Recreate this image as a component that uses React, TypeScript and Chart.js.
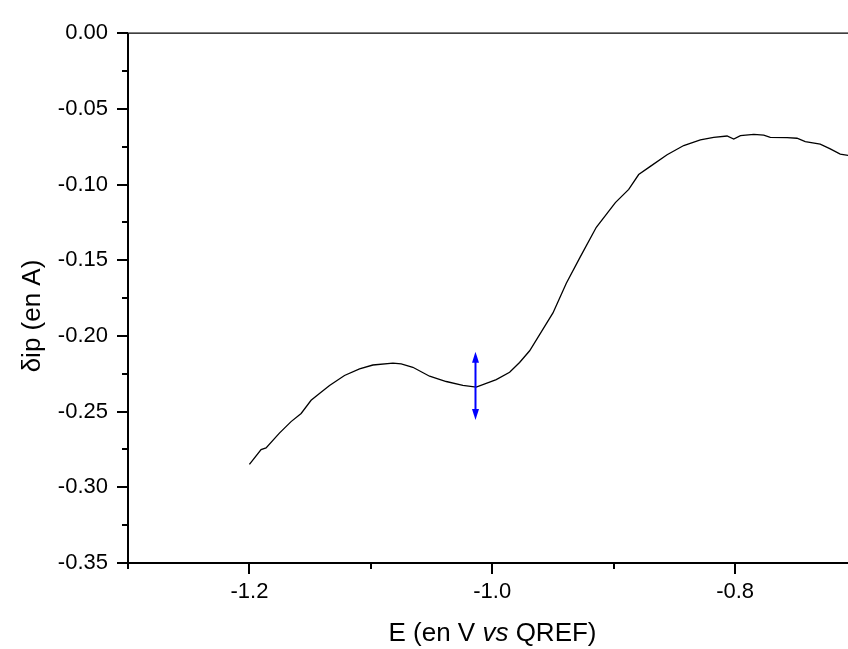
import React, { useEffect, useRef } from "react";
import { Chart, registerables } from "chart.js";

Chart.register(...registerables);

// ---- data ----
const E_VALUES = [
  -1.2, -1.1904, -1.1863, -1.1753, -1.1657, -1.1574, -1.1492, -1.1423, -1.134, -1.1217,
  -1.1093, -1.0983, -1.0818, -1.075, -1.0654, -1.0516, -1.0379, -1.0242, -1.0132, -0.9967,
  -0.9857, -0.9775, -0.9692, -0.95, -0.939, -0.9275, -0.9143, -0.8986, -0.8876, -0.8794,
  -0.8698, -0.856, -0.8423, -0.8286, -0.8176, -0.8066, -0.8011, -0.7956, -0.7846, -0.7764,
  -0.771, -0.7572, -0.749, -0.7422, -0.7299, -0.7216, -0.7134, -0.7066,
];
const DIP_VALUES = [
  -0.2849, -0.2751, -0.274, -0.2642, -0.2566, -0.2512, -0.2425, -0.2381, -0.2327, -0.2261,
  -0.2218, -0.2192, -0.2179, -0.2185, -0.2207, -0.2266, -0.2301, -0.2327, -0.2338, -0.2288,
  -0.224, -0.2175, -0.2098, -0.1848, -0.1652, -0.1478, -0.1282, -0.1119, -0.1032, -0.0934,
  -0.088, -0.0803, -0.0742, -0.0705, -0.0688, -0.0679, -0.0699, -0.0677, -0.0668, -0.0673,
  -0.0688, -0.069, -0.0694, -0.0716, -0.0733, -0.0764, -0.0799, -0.0808,
];

const X_MAJOR_TICKS = [-1.2, -1.0, -0.8];
const X_MINOR_TICKS = [-1.3, -1.1, -0.9];
const Y_MAJOR_TICKS = [0, -0.05, -0.1, -0.15, -0.2, -0.25, -0.3, -0.35];
const Y_MINOR_TICKS = [-0.025, -0.075, -0.125, -0.175, -0.225, -0.275, -0.325];

const X_MIN = -1.3;
const X_MAX = -0.707;
const Y_MIN = -0.35;
const Y_MAX = 0;

const ARROW_X = -1.0138;
const ARROW_Y_TOP = -0.2105;
const ARROW_Y_BOTTOM = -0.2555;

const X_TITLE_PARTS = ["E (en V ", "vs", " QREF)"];
const Y_TITLE = "δip (en A)";

const FONT_FAMILY = 'Arial, "Liberation Sans", sans-serif';

const framePlugin = {
  id: "originFrame",
  afterDraw(chart: any) {
    const { ctx, chartArea: a, scales } = chart;
    const xs = scales.x;
    const ys = scales.y;
    ctx.save();
    ctx.strokeStyle = "#000";
    ctx.fillStyle = "#000";

    // frame lines
    ctx.lineWidth = 2;
    ctx.beginPath();
    ctx.moveTo(a.left, a.top);
    ctx.lineTo(a.left, a.bottom + 1);
    ctx.stroke();
    ctx.beginPath();
    ctx.moveTo(a.left - 1, a.bottom);
    ctx.lineTo(a.right, a.bottom);
    ctx.stroke();
    ctx.lineWidth = 1.2;
    ctx.beginPath();
    ctx.moveTo(a.left, a.top);
    ctx.lineTo(a.right, a.top);
    ctx.stroke();

    // y ticks
    ctx.lineWidth = 2;
    for (const v of Y_MAJOR_TICKS) {
      const y = Math.round(ys.getPixelForValue(v));
      ctx.beginPath();
      ctx.moveTo(a.left - 11, y);
      ctx.lineTo(a.left, y);
      ctx.stroke();
    }
    for (const v of Y_MINOR_TICKS) {
      const y = Math.round(ys.getPixelForValue(v));
      ctx.beginPath();
      ctx.moveTo(a.left - 6, y);
      ctx.lineTo(a.left, y);
      ctx.stroke();
    }
    // x ticks
    for (const v of X_MAJOR_TICKS) {
      const x = Math.round(xs.getPixelForValue(v));
      ctx.beginPath();
      ctx.moveTo(x, a.bottom);
      ctx.lineTo(x, a.bottom + 11);
      ctx.stroke();
    }
    for (const v of X_MINOR_TICKS) {
      const x = Math.round(xs.getPixelForValue(v));
      ctx.beginPath();
      ctx.moveTo(x, a.bottom);
      ctx.lineTo(x, a.bottom + 6);
      ctx.stroke();
    }

    // blue double arrow
    const ax = xs.getPixelForValue(ARROW_X);
    const ay1 = ys.getPixelForValue(ARROW_Y_TOP);
    const ay2 = ys.getPixelForValue(ARROW_Y_BOTTOM);
    ctx.strokeStyle = "#0000ff";
    ctx.fillStyle = "#0000ff";
    ctx.lineWidth = 2;
    ctx.beginPath();
    ctx.moveTo(ax, ay1 + 8);
    ctx.lineTo(ax, ay2 - 8);
    ctx.stroke();
    ctx.beginPath();
    ctx.moveTo(ax, ay1);
    ctx.lineTo(ax - 3.5, ay1 + 11);
    ctx.lineTo(ax + 3.5, ay1 + 11);
    ctx.closePath();
    ctx.fill();
    ctx.beginPath();
    ctx.moveTo(ax, ay2);
    ctx.lineTo(ax - 3.5, ay2 - 11);
    ctx.lineTo(ax + 3.5, ay2 - 11);
    ctx.closePath();
    ctx.fill();

    // x title with italic "vs"
    ctx.fillStyle = "#000";
    ctx.textBaseline = "alphabetic";
    ctx.textAlign = "left";
    const normal = `26px ${FONT_FAMILY}`;
    const italic = `italic 26px ${FONT_FAMILY}`;
    ctx.font = normal;
    const w1 = ctx.measureText(X_TITLE_PARTS[0]).width;
    const w3 = ctx.measureText(X_TITLE_PARTS[2]).width;
    ctx.font = italic;
    const w2 = ctx.measureText(X_TITLE_PARTS[1]).width;
    const total = w1 + w2 + w3;
    let tx = 492.5 - total / 2;
    const ty = 641;
    ctx.font = normal;
    ctx.fillText(X_TITLE_PARTS[0], tx, ty);
    tx += w1;
    ctx.font = italic;
    ctx.fillText(X_TITLE_PARTS[1], tx, ty);
    tx += w2;
    ctx.font = normal;
    ctx.fillText(X_TITLE_PARTS[2], tx, ty);

    // y title
    ctx.translate(33, 316);
    ctx.rotate(-Math.PI / 2);
    ctx.textAlign = "center";
    ctx.textBaseline = "middle";
    ctx.font = normal;
    ctx.fillText(Y_TITLE, 0, 0);

    ctx.restore();
  },
};

export default function App() {
  const canvasRef = useRef<HTMLCanvasElement | null>(null);

  useEffect(() => {
    if (!canvasRef.current) return;
    const points = E_VALUES.map((x, i) => ({ x, y: DIP_VALUES[i] }));
    const chart = new Chart(canvasRef.current, {
      type: "scatter",
      data: {
        datasets: [
          {
            label: "δip",
            data: points,
            showLine: true,
            borderColor: "#000",
            borderWidth: 1.3,
            pointRadius: 0,
            tension: 0,
          },
        ],
      },
      options: {
        animation: false,
        responsive: true,
        maintainAspectRatio: false,
        layout: { padding: { top: 27, right: 0, left: 0, bottom: 0 } },
        plugins: {
          legend: { display: false },
          tooltip: { enabled: false },
        },
        scales: {
          x: {
            type: "linear",
            min: X_MIN,
            max: X_MAX,
            grid: { display: false, drawTicks: false },
            border: { display: false },
            ticks: {
              color: "#000",
              font: { size: 22, family: FONT_FAMILY },
              padding: 16,
              maxRotation: 0,
              callback: (v: any) => Number(v).toFixed(1),
            },
            afterBuildTicks: (s: any) => {
              s.ticks = X_MAJOR_TICKS.map((value) => ({ value }));
            },
            afterFit: (s: any) => {
              s.height = 86;
            },
          },
          y: {
            type: "linear",
            min: Y_MIN,
            max: Y_MAX,
            grid: { display: false, drawTicks: false },
            border: { display: false },
            ticks: {
              color: "#000",
              font: { size: 22, family: FONT_FAMILY },
              padding: 20,
              callback: (v: any) => Number(v).toFixed(2),
            },
            afterBuildTicks: (s: any) => {
              s.ticks = Y_MAJOR_TICKS.map((value) => ({ value }));
            },
            afterFit: (s: any) => {
              s.width = 128;
            },
          },
        },
      },
      plugins: [framePlugin],
    });
    return () => chart.destroy();
  }, []);

  return (
    <div style={{ position: "absolute", left: 0, top: 0, width: 848, height: 649, background: "#fff" }}>
      <canvas ref={canvasRef} />
    </div>
  );
}
